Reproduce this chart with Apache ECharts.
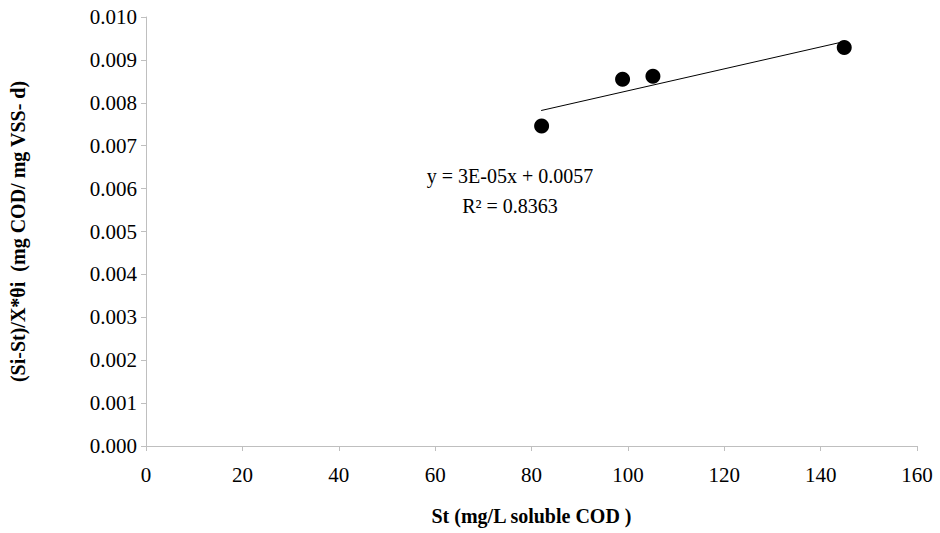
<!DOCTYPE html>
<html>
<head>
<meta charset="utf-8">
<script src="https://cdn.jsdelivr.net/npm/echarts@6/dist/echarts.min.js"></script>
<style>html,body{margin:0;padding:0;background:#fff}#chart{width:940px;height:533px}</style>
</head>
<body>
<div id="chart"></div>
<script>
const stValues = [82.1, 98.9, 105.2, 144.9]
const rateValues = [0.00746, 0.00855, 0.00862, 0.00929]
const trendX = [82, 145]
const trendY = [0.00782, 0.00943]
const yTicks = ['0.000', '0.001', '0.002', '0.003', '0.004', '0.005', '0.006', '0.007', '0.008', '0.009', '0.010']

const font = 'Liberation Serif, serif'
const chart = echarts.init(document.getElementById('chart'), null, { renderer: 'svg' })

const tickLabel = { fontFamily: font, fontSize: 21, color: '#000' }

const option = {
  animation: false,
  textStyle: { fontFamily: font },
  grid: { left: 144, right: 23, top: 17, bottom: 87 },
  xAxis: {
    type: 'value', min: 0, max: 160, interval: 20,
    name: 'St (mg/L soluble COD )', nameLocation: 'middle', nameGap: 60,
    nameTextStyle: { fontFamily: font, fontWeight: 'bold', fontSize: 20, color: '#000' },
    axisLine: { lineStyle: { color: '#bfbfbf' } },
    axisTick: { show: true, length: 5, lineStyle: { color: '#bfbfbf' } },
    axisLabel: { margin: 18, formatter: v => '{t|' + v + '}', rich: { t: tickLabel }, ...tickLabel },
    splitLine: { show: false }
  },
  yAxis: {
    type: 'value', min: 0, max: 0.01, interval: 0.001,
    name: '(Si-St)/X*θi  (mg COD/ mg VSS- d)', nameLocation: 'middle', nameGap: 118,
    nameTextStyle: { fontFamily: font, fontWeight: 'bold', fontSize: 20, color: '#000' },
    axisLine: { show: true, lineStyle: { color: '#bfbfbf' } },
    axisTick: { show: true, length: 5, lineStyle: { color: '#bfbfbf' } },
    axisLabel: { margin: 9, formatter: (v, i) => '{t|' + yTicks[i] + '}', rich: { t: tickLabel }, ...tickLabel },
    splitLine: { show: false }
  },
  series: [
    {
      type: 'line',
      data: trendX.map((x, i) => [x, trendY[i]]),
      symbol: 'none',
      lineStyle: { color: '#000', width: 1 },
      silent: true
    },
    {
      type: 'scatter',
      data: stValues.map((x, i) => [x, rateValues[i]]),
      symbol: 'circle', symbolSize: 15,
      itemStyle: { color: '#000', opacity: 1 }
    }
  ],
  graphic: [
    { type: 'text', style: { text: 'y = 3E-05x + 0.0057', fontFamily: font, fontSize: 20, fill: '#000', x: 510, y: 176, align: 'center', verticalAlign: 'middle' } },
    { type: 'text', style: { text: 'R² = 0.8363', fontFamily: font, fontSize: 20, fill: '#000', x: 510, y: 206, align: 'center', verticalAlign: 'middle' } }
  ]
}
chart.setOption(option)
</script>
</body>
</html>
